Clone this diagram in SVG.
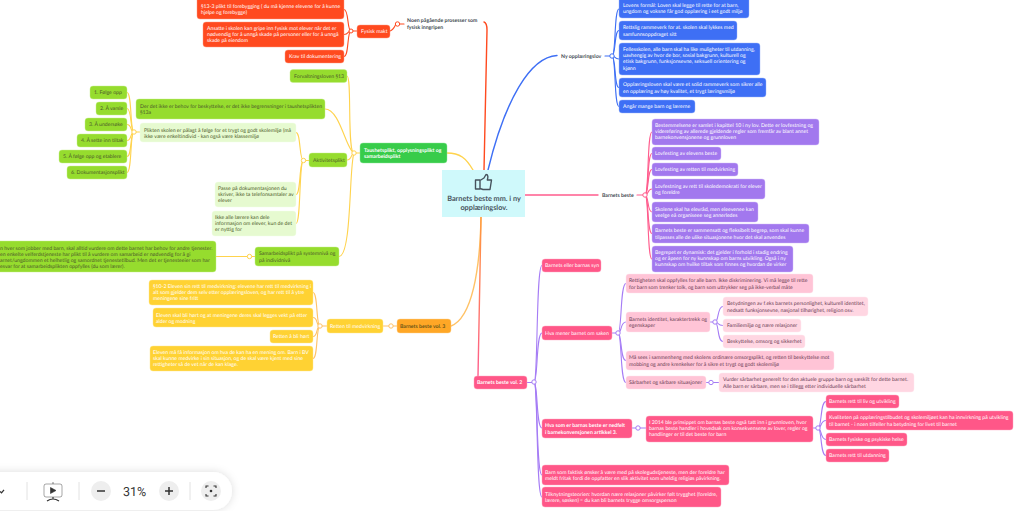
<svg xmlns="http://www.w3.org/2000/svg" width="1024" height="511" viewBox="0 0 1024 511">
<style>
text{font-family:"Lato","Open Sans","Liberation Sans",sans-serif;font-size:5.2px;fill:#fff;text-rendering:geometricPrecision}
.d text,text.d{fill:#4d5a2a}
.y text{fill:#6a5518}
.l text{fill:#6a5a4a}
.k text{fill:#6b3d55}
.b text{font-weight:700}
rect{stroke-opacity:.55;stroke-width:.8}
g[id^="n-"] rect{rx:3px}
.red rect{fill:#ff4a1f;stroke:#ff9a80}
.gr rect{fill:#96dc2e;stroke:#c6ef8c}
.lg rect{fill:#e6fad0;stroke:#f2fde6}
.dg rect{fill:#38cc4a;stroke:#8fe69b}
.ye rect{fill:#ffd233;stroke:#ffe78f}
.or rect{fill:#ffa726;stroke:#ffd28e}
.bl rect{fill:#3e6ff5;stroke:#9db6fa}
.pu rect{fill:#a278ee;stroke:#cfb8f7}
.pi rect{fill:#ff5788;stroke:#ffa8c2}
.pl rect{fill:#ffc4d6;stroke:#ffe0ea}
.px rect{fill:#ffd6e2;stroke:#ffe9f0}
.lbl text{fill:#444b52;font-weight:700}
#connectors path{fill:none;stroke-width:1.1;stroke-linecap:round}
#connectors path.t{stroke-width:1.4}
#connectors circle{fill:#fff;stroke-width:1}
.cr{stroke:#ff4a1f}.cy{stroke:#ffd34d}.co{stroke:#ffc266}.cb{stroke:#3e6ff5}.cp{stroke:#ff5c8d}.cv{stroke:#a57cf5}
</style>
<defs>
<linearGradient id="g2" gradientUnits="userSpaceOnUse" x1="481" y1="217" x2="478" y2="376"><stop offset="0" stop-color="#ff9a3c"/><stop offset="1" stop-color="#ff5c8d"/></linearGradient>
<filter id="sh" x="-10%" y="-40%" width="120%" height="180%"><feDropShadow dx="0" dy="0" stdDeviation="4" flood-color="#000" flood-opacity=".14"/></filter>
</defs>
<rect width="1024" height="511" fill="#fff" stroke="none"/>
<g id="connectors">
<g class="cr"><path class="cr t" d="M484 22Q487 23 487 30C486 80 485 130 484 170"/><path class="cr" d="M390 31Q393 30 395.500 25"/><path class="cr" d="M400 24H404"/><path class="cr" d="M351 31C347 31 349 9.500 344 9.500"/><path class="cr" d="M351 31C347 31 349 34.500 344 34.500"/><path class="cr" d="M351 31C347 31 349 56.500 344 56.500"/><path class="cr" d="M353 31H357"/><circle class="cr" cx="351" cy="31" r="2"/><circle class="cr" cx="397.500" cy="24" r="2.200"/></g>
<path class="cy t" d="M447 153C460 153 466 158 473 170"/>
<path class="cy" d="M354 153C347 153 352 76 347 76"/><path class="cy" d="M354 153C346 150 340 109 325 109"/><path class="cy" d="M354 153C351 153 352 160 347 160"/><path class="cy" d="M354 153C349 165 352 256 339 256.500"/><path class="cy" d="M356 153H360"/>
<path class="cy" d="M303.500 160.500C299 160.500 301 132.500 296 132.500"/><path class="cy" d="M303.500 160.500C299 160.500 301 194.500 296 194.500"/><path class="cy" d="M303.500 160.500C299 160.500 301 223.500 296 223.500"/><path class="cy" d="M305 160.500H309"/>
<path class="cy" d="M134 132C130 132 132 92.500 127 92.500"/><path class="cy" d="M134 132C130 132 132 108.500 127 108.500"/><path class="cy" d="M134 132C130 132 132 124.500 127 124.500"/><path class="cy" d="M134 132C130 132 132 140.500 127 140.500"/><path class="cy" d="M134 132C130 132 132 156.500 127 156.500"/><path class="cy" d="M134 132C130 132 132 172.500 127 172.500"/><path class="cy" d="M136 132H140"/>
<path class="cy" d="M216 256.500H247.500"/><path class="cy" d="M251.500 256.500H255"/>
<circle class="cy" cx="354" cy="153" r="2.200"/><circle class="cy" cx="303.500" cy="160.500" r="2.200"/><circle class="cy" cx="134" cy="132" r="2.200"/><circle class="cy" cx="249.500" cy="256.500" r="2.200"/>
<path class="co t" d="M481 217C480 270 472 318 451 326"/>
<path class="co" d="M383 326H389"/><path class="co" d="M393 326H397"/>
<path class="co" d="M320 326C316 326 318 292.500 313 292.500"/><path class="co" d="M320 326C316 326 318 317.500 313 317.500"/><path class="co" d="M320 326C316 326 318 336.500 313 336.500"/><path class="co" d="M320 326C316 326 318 358.500 313 358.500"/><path class="co" d="M322 326H327"/>
<circle class="co" cx="320" cy="326" r="2.200"/><circle class="co" cx="391" cy="326" r="2.200"/>
<path class="t" stroke="url(#g2)" d="M481 217C480 270 479 330 478 376"/>
<path class="cb t" d="M557 55.500C530 57 505 100 488 170"/><path class="cb" d="M605 56H610"/>
<path class="cb" d="M612 56C616 56 614 9 619 9"/><path class="cb" d="M612 56C616 56 614 30.500 619 30.500"/><path class="cb" d="M612 56C616 56 614 59 619 59"/><path class="cb" d="M612 56C616 56 614 87.500 619 87.500"/><path class="cb" d="M612 56C616 56 614 106.500 619 106.500"/>
<circle class="cb" cx="612" cy="56" r="2.200"/>
<path class="cp t" d="M525 195H598"/><path class="cp" d="M637 195H643"/>
<path class="cp" d="M645 195C649 195 647 132 652 132"/><path class="cp" d="M645 195C649 195 647 153.500 652 153.500"/><path class="cp" d="M645 195C649 195 647 169.500 652 169.500"/><path class="cp" d="M645 195C649 195 647 189 652 189"/><path class="cp" d="M645 195C649 195 647 212 652 212"/><path class="cp" d="M645 195C649 195 647 233.500 652 233.500"/><path class="cp" d="M645 195C649 195 647 259 652 259"/>
<circle class="cp" cx="645" cy="195" r="2.200"/>
<path class="cv" d="M527 382.500H532"/>
<path class="cv" d="M534 382C538 382 536 265.500 542 265.500"/><path class="cv" d="M534 382C538 382 536 333 542 333"/><path class="cv" d="M534 382C538 382 536 428 542 428"/><path class="cv" d="M534 382C538 382 536 475 542 475"/><path class="cv" d="M534 382C538 382 536 497 542 497"/>
<path class="cv" d="M612 333H616"/><path class="cv" d="M618 333C622 333 620 283.500 626 283.500"/><path class="cv" d="M618 333C622 333 620 322 626 322"/><path class="cv" d="M618 333C622 333 620 360.500 626 360.500"/><path class="cv" d="M618 333C622 333 620 382.500 626 382.500"/>
<path class="cv" d="M710 322H713"/><path class="cv" d="M715 322C719 322 717 306.500 723 306.500"/><path class="cv" d="M715 322C719 322 717 325.500 723 325.500"/><path class="cv" d="M715 322C719 322 717 341.500 723 341.500"/>
<path class="cv" d="M706 382.500H709"/><path class="cv" d="M713 382.500H719"/><path class="cv" d="M632 428H636"/><path class="cv" d="M640 428H646"/>
<path class="cv" d="M813 428H816"/><path class="cv" d="M818 428C822 428 820 401.500 826 401.500"/><path class="cv" d="M818 428C822 428 820 420.500 826 420.500"/><path class="cv" d="M818 428C822 428 820 439.500 826 439.500"/><path class="cv" d="M818 428C822 428 820 455.500 826 455.500"/>
<circle class="cv" cx="534" cy="382" r="2.200"/><circle class="cv" cx="618" cy="333" r="2.200"/><circle class="cv" cx="715" cy="322" r="2.200"/><circle class="cv" cx="711" cy="382.500" r="2.200"/><circle class="cv" cx="638" cy="428" r="2.200"/><circle class="cv" cx="818" cy="428" r="2.200"/>
</g>

<g id="center"><rect x="442" y="170" width="83" height="47" fill="#cff9fb" stroke="none"/>
<path d="M480 180H475.500V189H480ZM480 180.500L484 178L486 174.500C488.500 174.500 488 177.500 487.300 180H491.500L490 189.500H483L480 188.500Z" fill="none" stroke="#46525c" stroke-width="1.400" stroke-linejoin="round"/>
<text x="484" y="201.300" text-anchor="middle" style="font-size:7.3px;font-weight:700;fill:#4a5660">Barnets beste mm. i ny</text>
<text x="484" y="210.300" text-anchor="middle" style="font-size:7.3px;font-weight:700;fill:#4a5660">opplæringslov.</text></g>

<g id="n-forebygging" class="red"><rect x="197" y="-4" width="147" height="23"/><text x="201" y="7.500">§13-3 plikt til forebygging ( du må kjenne elevene for å kunne</text><text x="201" y="13.800">hjelpe og forebygge)</text></g>
<g id="n-ansatte" class="red"><rect x="203" y="22" width="141" height="25"/><text x="207" y="30">Ansatte i skolen kan gripe inn fysisk mot elever når det er</text><text x="207" y="36">nødvendig for å unngå skade på personer eller for å unngå</text><text x="207" y="42">skade på eiendom</text></g>
<g id="n-krav" class="red"><rect x="285" y="50" width="59" height="13"/><text x="289" y="58.300">Krav til dokumentering</text></g>
<g id="n-fysisk" class="red"><rect x="357" y="25" width="33" height="13"/><text x="361" y="33.300">Fysisk makt</text></g>
<g id="n-noen" class="lbl"><text x="407" y="22">Noen pågående prosesser som</text><text x="407" y="29">fysisk inngripen</text></g>

<g id="n-forvaltning" class="gr d"><rect x="290" y="69.500" width="57" height="13"/><text x="294" y="77.800">Forvaltningsloven §13</text></g>
<g id="n-der" class="gr d"><rect x="136" y="99" width="189" height="20"/><text x="140" y="108">Der det ikke er behov for beskyttelse, er det ikke begrensninger i taushetsplikten</text><text x="140" y="114.300">§13a</text></g>
<g id="n-plikten" class="lg d"><rect x="140" y="123" width="156" height="19"/><text x="144" y="131.500">Plikten skolen er pålagt å følge for et trygt og godt skolemiljø (må</text><text x="144" y="137.800">ikke være enkeltindivid - kan også være klassemiljø</text></g>
<g id="n-aktivitet" class="gr d"><rect x="309" y="153" width="38" height="14"/><text x="313" y="162">Aktivitetsplikt</text></g>
<g id="n-taushet" class="dg b"><rect x="360" y="143" width="87" height="20"/><text x="364" y="151.500">Taushetsplikt, opplysningsplikt og</text><text x="364" y="158">samarbeidsplikt</text></g>
<g id="n-1" class="gr d"><rect x="90" y="86" width="37" height="13"/><text x="94" y="94.300">1. Følge opp</text></g>
<g id="n-2" class="gr d"><rect x="96" y="102" width="31" height="13"/><text x="100" y="110.300">2. Å varsle</text></g>
<g id="n-3" class="gr d"><rect x="85" y="118" width="42" height="13"/><text x="89" y="126.300">3. Å undersøke</text></g>
<g id="n-4" class="gr d"><rect x="77" y="134" width="50" height="13"/><text x="81" y="142.300">4. Å sette inn tiltak</text></g>
<g id="n-5" class="gr d"><rect x="59" y="150" width="68" height="13"/><text x="63" y="158.300">5. Å følge opp og etablere</text></g>
<g id="n-6" class="gr d"><rect x="67" y="166" width="60" height="13"/><text x="71" y="174.300">6. Dokumentasjonsplikt</text></g>
<g id="n-passe" class="lg d"><rect x="215" y="182" width="81" height="25"/><text x="218" y="190">Passe på dokumentasjonen du</text><text x="218" y="196.200">skriver, ikke ta telefonsamtaler av</text><text x="218" y="202.400">elever</text></g>
<g id="n-ikke" class="lg d"><rect x="212" y="211" width="84" height="25"/><text x="215" y="219">Ikke alle lærere kan dele</text><text x="215" y="225.200">informasjon om elever, kun de det</text><text x="215" y="231.400">er nyttig for</text></g>
<g id="n-samarbeid" class="gr d"><rect x="255" y="247" width="84" height="19"/><text x="259" y="255.300">Samarbeidsplikt på systemnivå og</text><text x="259" y="261.500">på individnivå</text></g>
<g id="n-enhver" class="gr d"><rect x="-6" y="241" width="222" height="31"/><text x="0" y="250">n hver som jobber med barn, skal alltid vurdere om dette barnet har behov for andre tjenester.</text><text x="0" y="256">en enkelte velferdstjeneste har plikt til å vurdere om samarbeid er nødvendig for å gi</text><text x="0" y="262">arnet/ungdommen et helhetlig og samordnet tjenestetilbud. Men det er tjenesteeier som har</text><text x="0" y="268">esvar for at samarbeidsplikten oppfylles (du som lærer).</text></g>

<g id="n-102" class="ye"><rect x="149" y="280" width="164" height="25"/><text x="153" y="287.500">§10-2 Eleven sin rett til medvirkning: elevene har rett til medvirkning i</text><text x="153" y="293.800">alt som gjelder dem selv etter opplæringsloven, og har rett til å ytre</text><text x="153" y="300">meningene sine fritt</text></g>
<g id="n-eleven" class="ye"><rect x="153" y="308" width="160" height="19"/><text x="156" y="316.500">Eleven skal bli hørt og at meningene deres skal legges vekt på etter</text><text x="156" y="322.800">alder og modning</text></g>
<g id="n-hort" class="ye"><rect x="270" y="330" width="43" height="13"/><text x="273" y="338.300">Retten å bli hørt</text></g>
<g id="n-info" class="ye"><rect x="150" y="346" width="163" height="25"/><text x="153" y="354">Eleven må få informasjon om hva de kan ha en mening om. Barn i BV</text><text x="153" y="360.200">skal kunne medvirke i sin situasjon, og de skal være kjent med sine</text><text x="153" y="366.400">rettigheter så de vet når de kan klage.</text></g>
<g id="n-medvirk" class="ye"><rect x="327" y="319" width="56" height="14"/><text x="330" y="327.800">Retten til medvirkning</text></g>
<g id="n-vol3" class="or y b"><rect x="397" y="319" width="54" height="14"/><text x="400" y="327.800">Barnets beste vol. 3</text></g>

<g id="n-formal" class="bl"><rect x="619" y="-3" width="130" height="21"/><text x="623" y="6.500">Lovens formål: Loven skal legge til rette for at barn,</text><text x="623" y="12.800">ungdom og voksne får god opplæring i eet godt miljø</text></g>
<g id="n-rettslig" class="bl"><rect x="619" y="21" width="118" height="19"/><text x="623" y="29.300">Rettslig rammeverk for at. skolen skal lykkes med</text><text x="623" y="35.500">samfunnsoppdraget sitt</text></g>
<g id="n-felles" class="bl"><rect x="619" y="43" width="141" height="32"/><text x="623" y="51">Fellesskolen, alle barn skal ha like muligheter til utdanning,</text><text x="623" y="57.200">uavhengig av hvor de bor, sosial bakgrunn, kulturell og</text><text x="623" y="63.400">etisk bakgrunn, funksjonsevne, seksuell orientering og</text><text x="623" y="69.600">kjønn</text></g>
<g id="n-oppl" class="bl"><rect x="619" y="78" width="147" height="19"/><text x="623" y="86.300">Opplæringsloven skal være et solid rammeverk som sikrer alle</text><text x="623" y="92.500">en opplæring av høy kvalitet, et trygt læringsmiljø</text></g>
<g id="n-angar" class="bl"><rect x="619" y="100" width="76" height="13"/><text x="623" y="108.300">Angår mange barn og lærerne</text></g>
<g id="n-ny" class="lbl"><text x="561" y="57.800">Ny opplæringslov</text></g>

<g id="n-bb" class="lbl"><text x="602" y="197">Barnets beste</text></g>
<g id="n-best" class="pu"><rect x="652" y="119" width="167" height="26"/><text x="655" y="127">Bestemmelsene er samlet i kapittel 10 i ny lov. Dette er lovfestning og</text><text x="655" y="133.200">videreføring av allerede gjeldende regler som fremfår av blant annet</text><text x="655" y="139.400">barnekonvensjonene og grunnloven</text></g>
<g id="n-lov1" class="pu"><rect x="652" y="147" width="69" height="13"/><text x="655" y="155.300">Lovfesting av elevens beste</text></g>
<g id="n-lov2" class="pu"><rect x="652" y="163" width="86" height="13"/><text x="655" y="171.300">Lovfesting av retten til medvirkning</text></g>
<g id="n-lov3" class="pu"><rect x="652" y="179" width="113" height="20"/><text x="655" y="187.500">Lovfestning av rett til skoledemokrati for elever</text><text x="655" y="193.700">og foreldre</text></g>
<g id="n-skolene" class="pu"><rect x="652" y="202" width="106" height="20"/><text x="655" y="210.500">Skolene skal ha elevråd, men eleevenee kan</text><text x="655" y="216.700">veelge eå organiseee seg annerledes</text></g>
<g id="n-sammensatt" class="pu"><rect x="652" y="224" width="157" height="19"/><text x="655" y="232.300">Barnets beste er sammensatt og fleksibelt begrep, som skal kunne</text><text x="655" y="238.500">tilpasses alle de ulike situasjonene hvor det skal anvendes</text></g>
<g id="n-begrepet" class="pu"><rect x="652" y="246" width="141" height="26"/><text x="655" y="254">Begrepet er dynamisk: det gjelder i forhold i stadig endring</text><text x="655" y="260.200">og er åpeen for ny kunnskap om barns utvikling. Også i ny</text><text x="655" y="266.400">kunnskap om hvilke tiltak som finnes og hvordan de virker</text></g>

<g id="n-vol2" class="pi b"><rect x="474" y="376" width="53" height="13"/><text x="477" y="384.300">Barnets beste vol. 2</text></g>
<g id="n-syn" class="pi"><rect x="542" y="259" width="59" height="13"/><text x="545" y="267.300">Barnets eller barnas syn</text></g>
<g id="n-mener" class="pi"><rect x="542" y="326" width="70" height="14"/><text x="545" y="334.800">Hva mener barnet om saken</text></g>
<g id="n-rett" class="pl k"><rect x="626" y="274" width="187" height="19"/><text x="629" y="282.300">Rettigheten skal oppfylles for alle barn. Ikke diskriminering. Vi må legge til rette</text><text x="629" y="288.500">for barn som trenker tolk, og barn som uttrykker seg på ikke-verbal måte</text></g>
<g id="n-identitet" class="pl k"><rect x="626" y="312" width="84" height="20"/><text x="629" y="320.500">Barnets identitet, karaktertrekk og</text><text x="629" y="326.700">egenskaper</text></g>
<g id="n-betyd" class="px k"><rect x="723" y="297" width="145" height="19"/><text x="727" y="305.300">Betydningen av f.eks barnets personlighet, kulturell identitet,</text><text x="727" y="311.500">nedsatt funksjonsevne, nasjonal tilhørighet, religion osv.</text></g>
<g id="n-familie" class="px k"><rect x="723" y="319" width="78" height="13"/><text x="727" y="327.300">Familiemiljø og nære relasjoner</text></g>
<g id="n-beskytt" class="px k"><rect x="723" y="335" width="82" height="13"/><text x="727" y="343.300">Beskyttelse, omsorg og sikkerhet</text></g>
<g id="n-mases" class="pl k"><rect x="626" y="351" width="208" height="19"/><text x="629" y="359.300">Må sees i sammenheng med skolens ordinære omsorgsplikt, og retten til beskyttelse mot</text><text x="629" y="365.500">mobbing og andre krenkelser for å sikre et trygt og godt skolemiljø</text></g>
<g id="n-sarbar" class="pl k"><rect x="626" y="376" width="80" height="13"/><text x="629" y="384.300">Sårbarhet og sårbare situasjoner</text></g>
<g id="n-vurder" class="px k"><rect x="719" y="373" width="195" height="19"/><text x="723" y="381.300">Vurder sårbarhet generelt for den aktuele gruppe barn og sæskilt for dette barnet.</text><text x="723" y="387.500">Alle barn er sårbare, men se i tillegg etter individuelle sårbarhet</text></g>
<g id="n-nedfelt" class="pi b"><rect x="542" y="419" width="90" height="19"/><text x="545" y="427.300">Hva som er barnas beste er nedfelt</text><text x="545" y="433.500">i barnekonvensjonen artikkel 3.</text></g>
<g id="n-2014" class="pi"><rect x="646" y="416" width="167" height="26"/><text x="649" y="424">I 2014 ble prinsippet om barnas beste også tatt inn i grunnloven, hvor</text><text x="649" y="430.200">barnas beste handler i hovedsak om konsekvensene av lover, regler og</text><text x="649" y="436.400">handlinger er til det beste for barn</text></g>
<g id="n-liv" class="pi"><rect x="826" y="395" width="73" height="13"/><text x="829" y="403.300">Barnets rett til liv og utvikling</text></g>
<g id="n-kval" class="pi"><rect x="826" y="411" width="187" height="19"/><text x="829" y="419.300">Kvaliteten på opplæringstilbudet og skolemiljøet kan ha innvirkning på utvikling</text><text x="829" y="425.500">til barnet - i noen tilfeller ha betydning for livet til barnet</text></g>
<g id="n-helse" class="pi"><rect x="826" y="433" width="81" height="13"/><text x="829" y="441.300">Barnets fysiske og psykiske helse</text></g>
<g id="n-utd" class="pi"><rect x="826" y="449" width="63" height="13"/><text x="829" y="457.300">Barnets rett til utdanning</text></g>
<g id="n-faktisk" class="pi"><rect x="542" y="465" width="187" height="20"/><text x="545" y="473.500">Barn som faktisk ønsker å være med på skolegudstjeneste, men der foreldre har</text><text x="545" y="479.700">meldt fritak fordi de oppfatter en slik aktivitet som uheldig religiøs påvirkning.</text></g>
<g id="n-tilk" class="pi"><rect x="542" y="487" width="179" height="20"/><text x="545" y="495.500">Tilknytningsteorien: hvordan nære relasjoner påvirker følt trygghet (foreldre,</text><text x="545" y="501.700">lærere, søsken) = du kan bli barnets trygge omsorgsperson</text></g>

<g id="toolbar">
<rect x="-30" y="472" width="262" height="38" rx="19" fill="#fff" stroke="none" filter="url(#sh)"/>
<path d="M0 491.500L1.500 492.800L4 489.800" fill="none" stroke="#333" stroke-width="1.300"/>
<path d="M27 482V500M79 482V500M190 482V500" stroke="#e2e2e2" fill="none"/>
<rect x="44" y="484" width="18" height="13" rx="2" fill="none" stroke="#333" stroke-width="1.300"/>
<path d="M53 484V482M50.500 487.500V493.500L56 490.500Z" fill="#333" stroke="#333" stroke-width=".6"/>
<path d="M47 501Q53 497 59 501M53 497V499" fill="none" stroke="#333" stroke-width="1.200"/>
<circle cx="101" cy="491" r="10" fill="#eee"/><path d="M97 491H105" stroke="#333" stroke-width="1.500"/>
<text x="134.500" y="495.500" text-anchor="middle" style="font-family:Roboto,'Liberation Sans',sans-serif;font-size:12.500px;fill:#333">31%</text>
<circle cx="169" cy="491" r="10" fill="#eee"/><path d="M165 491H173M169 487V495" stroke="#333" stroke-width="1.500"/>
<circle cx="211" cy="491" r="10" fill="#eee"/>
<path d="M206 488V486H208.500M213.500 486H216V488M216 494V496H213.500M208.500 496H206V494" fill="none" stroke="#333" stroke-width="1.100"/><circle cx="211" cy="491" r="1.300" fill="#333"/>
</g>
</svg>
